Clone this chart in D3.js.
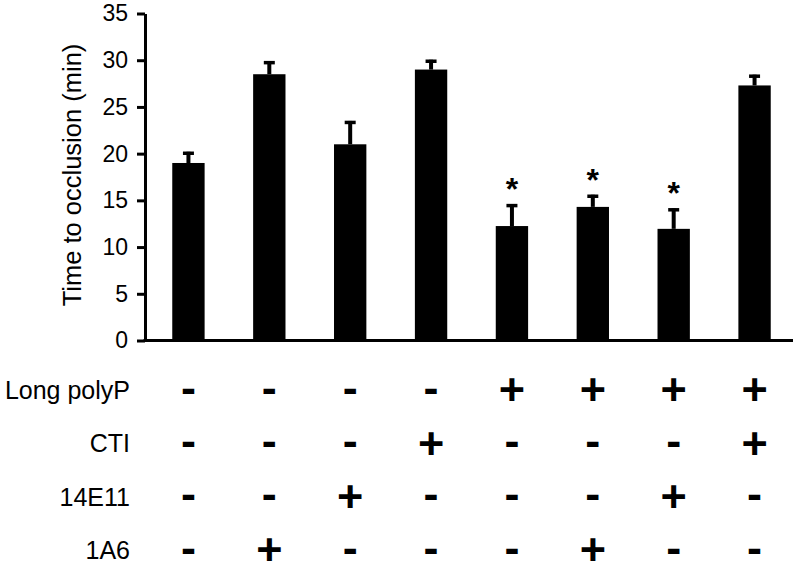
<!DOCTYPE html>
<html>
<head>
<meta charset="utf-8">
<script src="https://cdn.jsdelivr.net/npm/d3@7"></script>
<style>
  body { margin: 0; background: #fff; }
  text { font-family: "Liberation Sans", Arial, sans-serif; fill: #000; }
</style>
</head>
<body>
<div id="canvas"></div>
<script>
var _width = 800;
var _height = 571;

// values
var groups = ["g1", "g2", "g3", "g4", "g5", "g6", "g7", "g8"];
var means = [19.0, 28.5, 21.0, 29.0, 12.25, 14.3, 11.95, 27.3];
var errs = [1.2, 1.4, 2.5, 1.05, 2.35, 1.3, 2.2, 1.15];
var stars = [false, false, false, false, true, true, true, false];

var rowLabels = ["Long polyP", "CTI", "14E11", "1A6"];
var longPolyP = [0, 0, 0, 0, 1, 1, 1, 1];
var cti = [0, 0, 0, 1, 0, 0, 0, 1];
var e14E11 = [0, 0, 1, 0, 0, 0, 1, 0];
var a1A6 = [0, 1, 0, 0, 0, 1, 0, 0];
var rows = [longPolyP, cti, e14E11, a1A6];

var yTicks = [0, 5, 10, 15, 20, 25, 30, 35];

var _axisX = 145;
var _top = 13.5, _bottom = 340.5;

var svg = d3.select("#canvas").append("svg")
    .attr("width", _width)
    .attr("height", _height);

var x = d3.scaleBand().domain(groups).range([148, 795]).paddingInner(0.6).paddingOuter(0.3);
var y = d3.scaleLinear().domain([0, 35]).range([_bottom, _top]);

function cx(i) { return x(groups[i]) + x.bandwidth() / 2; }

// bars
svg.selectAll("rect.bar").data(means).enter().append("rect")
    .attr("class", "bar")
    .attr("x", function (d, i) { return x(groups[i]); })
    .attr("y", function (d) { return y(d); })
    .attr("width", x.bandwidth())
    .attr("height", function (d) { return y(0) - y(d); })
    .style("fill", "#000");

// error bars (upper only)
var eb = svg.selectAll("g.err").data(means).enter().append("g").attr("class", "err");
eb.append("line")
    .attr("x1", function (d, i) { return cx(i); })
    .attr("x2", function (d, i) { return cx(i); })
    .attr("y1", function (d) { return y(d); })
    .attr("y2", function (d, i) { return y(d + errs[i]); })
    .style("stroke", "#000").style("stroke-width", 4);
eb.append("line")
    .attr("x1", function (d, i) { return cx(i) - 5.5; })
    .attr("x2", function (d, i) { return cx(i) + 5.5; })
    .attr("y1", function (d, i) { return y(d + errs[i]) + 1.5; })
    .attr("y2", function (d, i) { return y(d + errs[i]) + 1.5; })
    .style("stroke", "#000").style("stroke-width", 3.5);

// significance stars
means.forEach(function (d, i) {
    if (!stars[i]) return;
    svg.append("text")
        .attr("class", "star")
        .attr("x", cx(i))
        .attr("y", y(d + errs[i]) - 4)
        .attr("text-anchor", "middle")
        .style("font-size", "32px")
        .style("font-weight", "bold")
        .text("*");
});

// y axis
var yAxis = svg.append("g")
    .attr("transform", "translate(" + _axisX + ",0)")
    .call(d3.axisLeft(y).tickValues(yTicks).tickSize(8).tickSizeOuter(0).tickPadding(9));
yAxis.select(".domain").style("stroke", "#000").style("stroke-width", 3);
yAxis.selectAll(".tick line").style("stroke", "#000").style("stroke-width", 3);
yAxis.selectAll(".tick text")
    .style("font-family", "'Liberation Sans', Arial, sans-serif")
    .style("font-size", "23px")
    .style("fill", "#000");

// x axis baseline
svg.append("line")
    .attr("x1", _axisX - 1.5).attr("x2", 793)
    .attr("y1", y(0)).attr("y2", y(0))
    .style("stroke", "#000").style("stroke-width", 3);

// y axis title
svg.append("text")
    .attr("transform", "translate(81,175) rotate(-90)")
    .attr("text-anchor", "middle")
    .style("font-size", "25.5px")
    .text("Time to occlusion (min)");

// treatment table
var rowY = d3.scalePoint().domain(rowLabels).range([390, 550]);

svg.selectAll("text.rowlab").data(rowLabels).enter().append("text")
    .attr("class", "rowlab")
    .attr("x", 130)
    .attr("y", function (d) { return rowY(d); })
    .attr("dy", "0.36em")
    .attr("text-anchor", "end")
    .style("font-size", "25px")
    .text(function (d) { return d; });

rows.forEach(function (row, r) {
    svg.selectAll("text.sym" + r).data(row).enter().append("text")
        .attr("class", "sym" + r)
        .attr("x", function (d, i) { return cx(i); })
        .attr("y", rowY(rowLabels[r]))
        .attr("dy", function (d) { return d ? "0.34em" : "0.28em"; })
        .attr("text-anchor", "middle")
        .style("font-size", "45px")
        .style("font-weight", "bold")
        .text(function (d) { return d ? "+" : "-"; });
});
</script>
</body>
</html>
